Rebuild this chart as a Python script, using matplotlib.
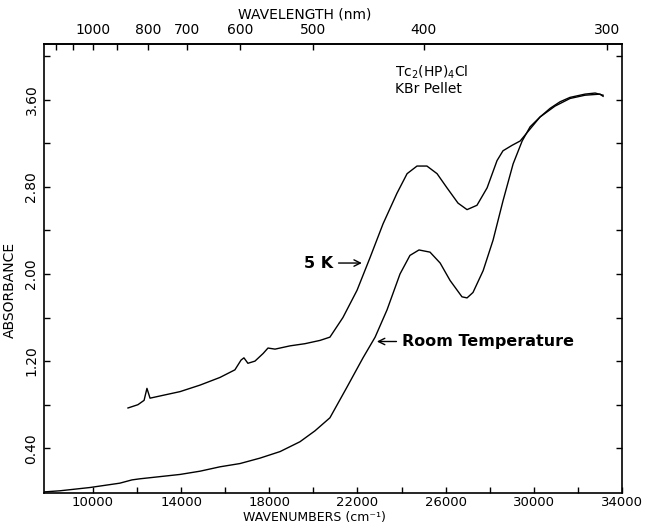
"""
Absorbance spectrum of Tc2(HP)4Cl in a KBr pellet, at 5 K and at room temperature.
"""

import matplotlib

matplotlib.use("Agg")
import matplotlib.pyplot as plt

plt.rcParams["font.family"] = ["DejaVu Sans"]

# room temperature trace (wavenumber in cm^-1, absorbance)
rt_wn = [7800, 8500, 9860, 11220, 11770, 12130, 13040, 13950, 14860, 15760,
         16670, 17580, 18490, 19390, 20070, 20750, 21520, 22250, 22800, 23340,
         23930, 24380, 24790, 25290, 25750, 26200, 26740, 26970, 27240, 27700,
         28150, 28600, 29060, 29470, 29830, 30280, 30960, 31640, 32320, 33000,
         33140]
rt_abs = [0.00, 0.01, 0.04, 0.08, 0.11, 0.12, 0.14, 0.16, 0.19, 0.23,
          0.26, 0.31, 0.37, 0.46, 0.56, 0.68, 0.96, 1.23, 1.42, 1.67,
          2.00, 2.17, 2.22, 2.20, 2.10, 1.94, 1.79, 1.78, 1.83, 2.03,
          2.31, 2.67, 3.01, 3.22, 3.35, 3.44, 3.54, 3.61, 3.64, 3.65,
          3.63]

# 5 K trace
k5_wn = [11590, 12040, 12320, 12450, 12590, 13040, 13950, 14860, 15760, 16440,
         16720, 16850, 17030, 17350, 17720, 17940, 18260, 18940, 19620, 20300,
         20750, 21340, 21980, 22570, 23160, 23790, 24250, 24700, 25150, 25610,
         26060, 26560, 26970, 27420, 27880, 28330, 28600, 29010, 29380, 29830,
         30280, 30740, 31190, 31640, 32320, 32780, 33140]
k5_abs = [0.77, 0.80, 0.84, 0.95, 0.86, 0.88, 0.92, 0.98, 1.05, 1.12,
          1.21, 1.23, 1.18, 1.20, 1.27, 1.32, 1.31, 1.34, 1.36, 1.39,
          1.42, 1.60, 1.85, 2.15, 2.46, 2.74, 2.92, 2.99, 2.99, 2.92,
          2.79, 2.65, 2.59, 2.63, 2.79, 3.04, 3.13, 3.18, 3.22, 3.33,
          3.44, 3.52, 3.58, 3.62, 3.65, 3.66, 3.64]

wn_ticks = [10000, 12000, 14000, 16000, 18000, 20000, 22000, 24000, 26000,
            28000, 30000, 32000, 34000]
wn_labelled = [10000, 14000, 18000, 22000, 26000, 30000, 34000]
abs_ticks = [0.40, 0.80, 1.20, 1.60, 2.00, 2.40, 2.80, 3.20, 3.60, 4.00]
abs_labelled = [0.40, 1.20, 2.00, 2.80, 3.60]
nm_ticks = [1200, 1100, 1000, 900, 800, 700, 600, 500, 400, 300]
nm_labelled = [1000, 800, 700, 600, 500, 400, 300]


def main() -> None:
    fig = plt.figure(figsize=(6.47, 5.25), dpi=100)
    ax = fig.add_axes([0.068, 0.061, 0.8934, 0.8552])

    ax.plot(rt_wn, rt_abs, color="black", linewidth=1.0)
    ax.plot(k5_wn, k5_abs, color="black", linewidth=1.0)

    ax.set_xlim(7780, 34000)
    ax.set_ylim(-0.01, 4.11)

    ax.set_xticks(wn_ticks)
    ax.set_xticklabels([str(t) if t in wn_labelled else "" for t in wn_ticks])
    ax.set_yticks(abs_ticks)
    ax.set_yticklabels([f"{t:.2f}" if t in abs_labelled else "" for t in abs_ticks])
    ax.tick_params(axis="both", direction="in", length=4, width=1.0,
                   labelsize=10, pad=4, right=True)
    ax.tick_params(axis="x", labelsize=9.5, pad=2)
    ax.tick_params(axis="y", labelrotation=90)
    for lab in ax.get_yticklabels():
        lab.set_va("center")

    top = ax.secondary_xaxis("top", functions=(lambda x: 1e7 / x, lambda x: 1e7 / x))
    top.set_xticks(nm_ticks)
    top.set_xticklabels([str(t) if t in nm_labelled else "" for t in nm_ticks])
    top.tick_params(direction="in", length=4, width=1.0, labelsize=10, pad=5)

    # axis titles placed where the reference has them (not centred on the frame)
    fig.text(314 / 647, 1 / 525, "WAVENUMBERS (cm\u207b\u00b9)",
             fontsize=9, ha="center", va="bottom")
    fig.text(305 / 647, 1 - 14 / 525, "WAVELENGTH (nm)",
             fontsize=10, ha="center", va="center")
    fig.text(10 / 647, 1 - 290 / 525, "ABSORBANCE",
             fontsize=10, ha="center", va="center", rotation=90)

    for spine in ax.spines.values():
        spine.set_linewidth(1.2)
    top.spines["top"].set_linewidth(1.2)

    ax.text(23700, 3.85, "Tc$_2$(HP)$_4$Cl", fontsize=10, ha="left", va="center")
    ax.text(23700, 3.70, "KBr Pellet", fontsize=10, ha="left", va="center")

    ax.annotate("5 K", xy=(22200, 2.10), xytext=(20890, 2.10),
                ha="right", va="center", fontsize=11.5, fontweight="bold",
                arrowprops=dict(arrowstyle="->", lw=1.0, color="black",
                                shrinkA=2, shrinkB=0))
    ax.annotate("Room Temperature", xy=(22880, 1.38), xytext=(24020, 1.38),
                ha="left", va="center", fontsize=11.5, fontweight="bold",
                arrowprops=dict(arrowstyle="->", lw=1.0, color="black",
                                shrinkA=2, shrinkB=0))

    fig.savefig("out.png", dpi=100)
    plt.close(fig)


if __name__ == "__main__":
    main()
